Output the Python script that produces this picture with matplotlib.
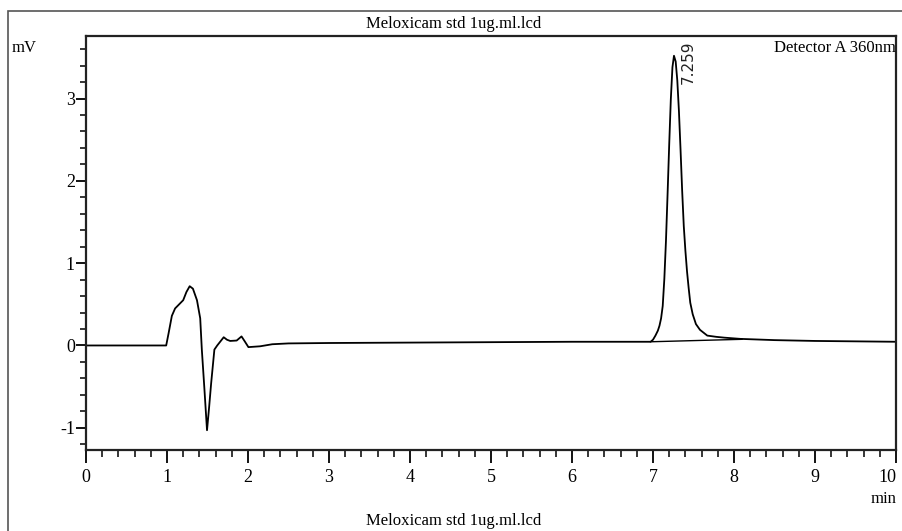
import matplotlib
matplotlib.use("Agg")
import matplotlib.pyplot as plt
from matplotlib.ticker import MultipleLocator
from matplotlib.patches import Rectangle

plt.rcParams["axes.unicode_minus"] = False

# ---- data ----
time_min = [0.00, 0.50, 0.99, 1.02, 1.06, 1.10, 1.15, 1.20, 1.24, 1.28, 1.32,
            1.37, 1.41, 1.43, 1.46, 1.494, 1.52, 1.545, 1.585, 1.62, 1.66,
            1.70, 1.74, 1.78, 1.86, 1.92, 1.96, 2.005, 2.15, 2.30, 2.50,
            3.00, 4.00, 5.00, 6.00, 6.90, 6.97, 7.00, 7.03, 7.06, 7.08,
            7.10, 7.12, 7.14, 7.16, 7.18, 7.20, 7.22, 7.24, 7.259, 7.28,
            7.30, 7.32, 7.34, 7.36, 7.38, 7.40, 7.42, 7.44, 7.46, 7.49,
            7.53, 7.58, 7.67, 7.78, 7.88, 8.08, 8.50, 9.00, 9.50, 10.00]
signal_mv = [0.00, 0.00, 0.00, 0.15, 0.36, 0.45, 0.50, 0.55, 0.65, 0.72, 0.69,
             0.55, 0.33, -0.05, -0.50, -1.03, -0.75, -0.46, -0.05, 0.00, 0.05,
             0.10, 0.07, 0.055, 0.06, 0.11, 0.05, -0.02, -0.01, 0.015, 0.025,
             0.03, 0.035, 0.04, 0.045, 0.045, 0.045, 0.07, 0.12, 0.18, 0.24,
             0.33, 0.48, 0.81, 1.27, 1.84, 2.44, 2.99, 3.38, 3.52, 3.45,
             3.22, 2.85, 2.38, 1.88, 1.45, 1.15, 0.90, 0.70, 0.52, 0.38,
             0.26, 0.19, 0.12, 0.105, 0.095, 0.08, 0.065, 0.055, 0.05, 0.045]

baseline_t = [6.97, 8.10]
baseline_mv = [0.045, 0.075]

peak_rt = 7.259
peak_label = "7.259"
x_ticks = [0, 1, 2, 3, 4, 5, 6, 7, 8, 9, 10]
y_ticks = [-1, 0, 1, 2, 3]
title_text = "Meloxicam std 1ug.ml.lcd"

serif = "Liberation Serif"

fig = plt.figure(figsize=(9.03, 5.31), dpi=100)
fig.patch.set_facecolor("white")

# outer frame
fig.add_artist(Rectangle((8 / 903, -0.1), 1.2, 1 - 11 / 531 + 0.1,
                         transform=fig.transFigure, fill=False,
                         edgecolor="#555555", linewidth=1.2))

ax = fig.add_axes([86 / 903, 1 - 450 / 531, (896 - 86) / 903, (450 - 36) / 531])
ax.plot(time_min, signal_mv, color="black", linewidth=1.3)
ax.plot(baseline_t, baseline_mv, color="black", linewidth=1.0)

ax.set_xlim(0, 10)
ax.set_ylim(-1.27, 3.76)
ax.set_xticks(x_ticks)
ax.set_yticks(y_ticks)
ax.xaxis.set_minor_locator(MultipleLocator(0.2))
ax.yaxis.set_minor_locator(MultipleLocator(0.2))
ax.tick_params(axis="x", which="major", direction="out", length=9, width=1.3,
               labelsize=13, pad=5)
ax.tick_params(axis="x", which="minor", direction="out", length=5, width=1.1)
ax.tick_params(axis="y", which="major", direction="out", length=7, width=1.3,
               labelsize=13, pad=1)
ax.tick_params(axis="y", which="minor", direction="out", length=4, width=1.1)
for lab in ax.get_xticklabels() + ax.get_yticklabels():
    lab.set_fontfamily(serif)
ax.get_xticklabels()[-1].set_horizontalalignment("right")
for s in ax.spines.values():
    s.set_linewidth(1.6)
    s.set_color("#222222")

ax.text(peak_rt + 0.18, 3.70, peak_label, rotation=90, ha="center", va="top",
        fontsize=11, family="DejaVu Sans", color="#222222")

fig.text(454 / 903, 1 - 24 / 531, title_text, ha="center", va="center",
         fontsize=12, family=serif)
fig.text(454 / 903, 1 - 513 / 531, title_text, ha="center", va="top",
         fontsize=12, family=serif)
fig.text(12 / 903, 1 - 48 / 531, "mV", ha="left", va="center",
         fontsize=12, family=serif)
fig.text(896 / 903, 1 - 48 / 531, "Detector A 360nm", ha="right", va="center",
         fontsize=12, family=serif)
fig.text(896 / 903, 1 - 499 / 531, "min", ha="right", va="center",
         fontsize=12, family=serif)

fig.savefig("out.png", dpi=100, facecolor="white")
